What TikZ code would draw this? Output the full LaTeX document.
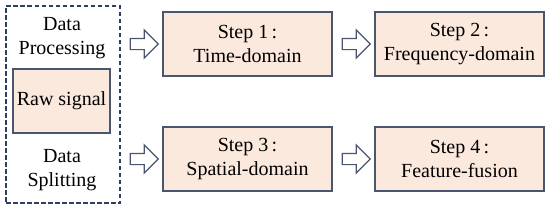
\documentclass[tikz,border=0pt]{standalone}
\usepackage{fontspec}
\setmainfont{Liberation Serif}
\usetikzlibrary{shapes.arrows,calc}
\definecolor{peach}{HTML}{FBE9DD}
\definecolor{slate}{HTML}{4A5670}
\definecolor{navy}{HTML}{2E3F62}

\begin{document}
\begin{tikzpicture}[x=1pt,y=-1pt,line width=1.5pt,
  every node/.style={font=\fontsize{20}{24.5}\selectfont},
  stepbox/.style={draw=slate,fill=peach,minimum width=169pt,minimum height=64pt,align=center,inner sep=0pt},
  blockarrow/.style={single arrow,draw=slate,line width=1.2pt,inner sep=5pt,minimum height=28pt,single arrow head extend=8.5pt}]
  \useasboundingbox (0,0) rectangle (550,209);
  % left frame
  \node[draw=navy,dash pattern=on 4.5pt off 2.5pt,minimum width=114pt,minimum height=197pt,inner sep=0pt] (frame) at (63,104.5) {};
  \node[align=center] (proc) at (62,38) {Data\\Processing};
  \node[stepbox,minimum width=97pt] (raw) at (61.5,101) {Raw signal};
  \node[align=center] (split) at (62,170) {Data\\Splitting};
  % steps
  \node[stepbox] (s1) at (247.5,44) {Step 1\,:\\Time-domain};
  \node[stepbox] (s2) at (459.5,44) {Step 2\,:\\Frequency-domain};
  \node[stepbox] (s3) at (247.5,159) {Step 3\,:\\Spatial-domain};
  \node[stepbox] (s4) at (459.5,159) {Step 4\,:\\Feature-fusion};
  % arrows
  \node[blockarrow] (a1) at ($(frame.east |- s1.west)!0.5!(s1.west)$) {};
  \node[blockarrow] (a2) at ($(s1.east)!0.5!(s2.west)$) {};
  \node[blockarrow] (a3) at ($(frame.east |- s3.west)!0.5!(s3.west)$) {};
  \node[blockarrow] (a4) at ($(s3.east)!0.5!(s4.west)$) {};
\end{tikzpicture}
\end{document}
